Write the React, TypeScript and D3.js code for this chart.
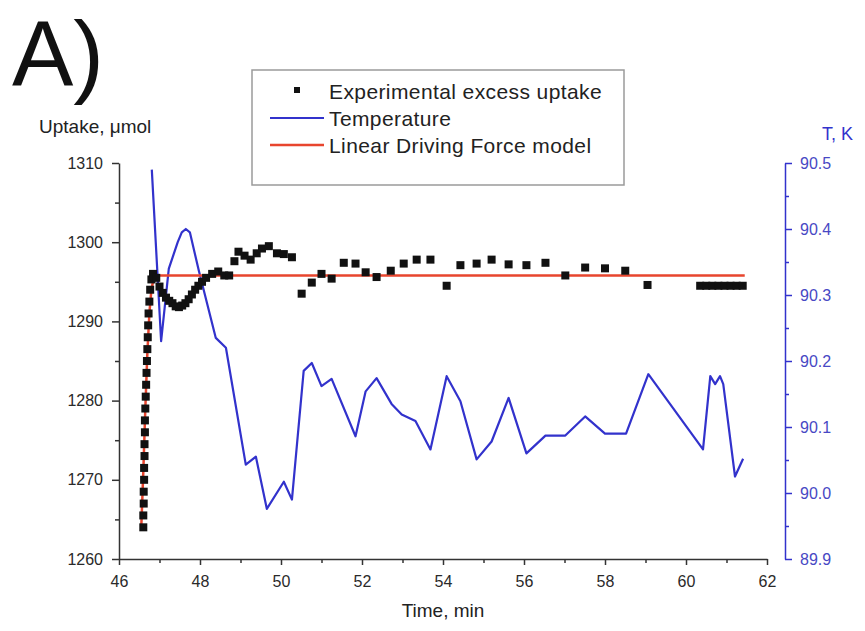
import React, { useEffect, useRef } from "react";
import * as d3 from "d3";

// Experimental excess uptake (time in min, uptake in µmol)
const expTime = [
  46.60, 46.60, 46.61, 46.61, 46.62, 46.62, 46.63, 46.63, 46.64, 46.64, 46.65, 46.66,
  46.67, 46.68, 46.69, 46.70, 46.71, 46.72, 46.73, 46.75, 46.77, 46.80, 46.84,
  46.92, 47.00, 47.08, 47.16, 47.24, 47.32, 47.40, 47.48, 47.56, 47.64, 47.72, 47.80,
  47.88, 47.96, 48.05, 48.15, 48.30, 48.45, 48.60, 48.72,
  48.85, 48.95, 49.10, 49.25, 49.40, 49.53, 49.70, 49.90, 50.07, 50.27,
  50.51, 50.76, 51.00, 51.25, 51.55, 51.84, 52.09, 52.36, 52.71, 53.03, 53.35, 53.69,
  54.09, 54.43, 54.83, 55.20, 55.62, 56.06, 56.53, 57.02, 57.51, 58.00, 58.50, 59.05,
  60.35, 60.50, 60.65, 60.80, 60.95, 61.10, 61.25, 61.40,
];
const expUptake = [
  1264.0, 1265.5, 1267.0, 1268.5, 1270.0, 1271.5, 1273.0, 1274.5, 1276.0, 1277.5, 1279.0, 1280.5,
  1282.0, 1283.5, 1285.0, 1286.5, 1288.0, 1289.5, 1291.0, 1292.5, 1294.0, 1295.3, 1296.0,
  1295.5, 1294.4, 1293.6, 1293.0, 1292.6, 1292.3, 1291.9, 1291.8, 1292.0, 1292.3, 1292.8, 1293.4,
  1294.0, 1294.5, 1295.0, 1295.5, 1296.0, 1296.3, 1295.8, 1295.8,
  1297.6, 1298.8, 1298.3, 1297.8, 1298.6, 1299.2, 1299.5, 1298.6, 1298.5, 1298.1,
  1293.5, 1294.9, 1296.0, 1295.4, 1297.4, 1297.3, 1296.2, 1295.6, 1296.4, 1297.3, 1297.8, 1297.8,
  1294.5, 1297.1, 1297.3, 1297.8, 1297.2, 1297.1, 1297.4, 1295.8, 1296.8, 1296.7, 1296.4, 1294.6,
  1294.5, 1294.5, 1294.5, 1294.5, 1294.5, 1294.5, 1294.5, 1294.5,
];

// Sample temperature (K)
const tempTime = [
  46.81, 47.04, 47.23, 47.45, 47.55, 47.65, 47.75, 47.97, 48.39, 48.64, 49.13, 49.38, 49.65,
  50.07, 50.27, 50.56, 50.76, 51.00, 51.25, 51.84, 52.09, 52.36, 52.73, 52.98, 53.32, 53.69,
  54.09, 54.43, 54.83, 55.20, 55.62, 56.06, 56.53, 57.02, 57.51, 58.00, 58.52, 59.07,
  60.42, 60.60, 60.72, 60.84, 60.92, 61.21, 61.41,
];
const tempK = [
  90.49, 90.23, 90.34, 90.38, 90.395, 90.40, 90.395, 90.337, 90.235, 90.22, 90.043, 90.055, 89.976,
  90.017, 89.99, 90.185, 90.197, 90.162, 90.173, 90.086, 90.154, 90.174, 90.135, 90.119, 90.109, 90.066,
  90.177, 90.139, 90.051, 90.078, 90.144, 90.06, 90.087, 90.087, 90.116, 90.09, 90.09, 90.18,
  90.066, 90.177, 90.165, 90.177, 90.165, 90.025, 90.052,
];

// Linear Driving Force model fit
const ldfTime = [46.55, 46.60, 46.65, 46.70, 46.75, 46.80, 46.85, 46.92, 61.45];
const ldfUptake = [1264.0, 1271.0, 1279.0, 1286.0, 1291.0, 1294.0, 1295.3, 1295.8, 1295.8];

const timeTicks = [46, 48, 50, 52, 54, 56, 58, 60, 62];
const timeMinor = [47, 49, 51, 53, 55, 57, 59, 61];
const uptakeTicks = [1260, 1270, 1280, 1290, 1300, 1310];
const uptakeMinor = [1265, 1275, 1285, 1295, 1305];
const tempTicks = [89.9, 90.0, 90.1, 90.2, 90.3, 90.4, 90.5];
const tempMinor = [89.95, 90.05, 90.15, 90.25, 90.35, 90.45];

const legendItems = ["Experimental excess uptake", "Temperature", "Linear Driving Force model"];

const FONT = "Arial, 'Liberation Sans', Helvetica, sans-serif";
const AXIS = "#333333";
const BLUE = "#3232cc";
const RED = "#e8452e";

export default function App() {
  const xAxisRef = useRef<SVGGElement>(null);
  const yAxisRef = useRef<SVGGElement>(null);
  const tAxisRef = useRef<SVGGElement>(null);

  const left = 119, right = 767, top = 163, bottom = 559, tAxisX = 785;

  const x = d3.scaleLinear().domain([46, 62]).range([left, right]);
  const yU = d3.scaleLinear().domain([1260, 1310]).range([bottom, top]);
  const yT = d3.scaleLinear().domain([89.9, 90.5]).range([bottom, top]);

  const tempLine = d3
    .line<number>()
    .x((_, i) => x(tempTime[i]))
    .y((d) => yT(d));
  const ldfLine = d3
    .line<number>()
    .x((_, i) => x(ldfTime[i]))
    .y((d) => yU(d));

  useEffect(() => {
    const style = (g: any, color: string, labelColor: string) => {
      g.selectAll("g").attr("font-family", FONT).attr("font-size", 16);
      g.selectAll("path.domain").attr("stroke", color).attr("stroke-width", 1.5);
      g.selectAll(".tick line").attr("stroke", color).attr("stroke-width", 1.5);
      g.selectAll(".tick text")
        .attr("fill", labelColor)
        .attr("font-size", 16)
        .attr("font-family", FONT);
    };

    const gx = d3.select(xAxisRef.current!);
    gx.selectAll("*").remove();
    gx.append("g").call(
      d3.axisBottom(x).tickValues(timeTicks).tickSize(6).tickSizeOuter(0).tickPadding(11).tickFormat(d3.format("d"))
    );
    gx.append("g")
      .call(d3.axisBottom(x).tickValues(timeMinor).tickSize(4).tickFormat(() => ""))
      .select("path.domain")
      .remove();
    style(gx, AXIS, "#2a2a2a");

    const gy = d3.select(yAxisRef.current!);
    gy.selectAll("*").remove();
    gy.append("g").call(
      d3.axisLeft(yU).tickValues(uptakeTicks).tickSize(7).tickSizeOuter(0).tickPadding(9).tickFormat(d3.format("d"))
    );
    gy.append("g")
      .call(d3.axisLeft(yU).tickValues(uptakeMinor).tickSize(4).tickFormat(() => ""))
      .select("path.domain")
      .remove();
    style(gy, AXIS, "#2a2a2a");

    const gt = d3.select(tAxisRef.current!);
    gt.selectAll("*").remove();
    gt.append("g").call(
      d3.axisRight(yT).tickValues(tempTicks).tickSize(7).tickSizeOuter(0).tickPadding(8).tickFormat(d3.format(".1f"))
    );
    gt.append("g")
      .call(d3.axisRight(yT).tickValues(tempMinor).tickSize(4).tickFormat(() => ""))
      .select("path.domain")
      .remove();
    style(gt, BLUE, "#4848c4");
  }, []);

  return (
    <svg
      width={865}
      height={631}
      viewBox="0 0 865 631"
      style={{ position: "absolute", left: 0, top: 0, background: "#ffffff" }}
    >
      <rect x={0} y={0} width={865} height={631} fill="#ffffff" />

      {/* panel tag */}
      <text x={12} y={86} fontFamily={FONT} fontSize={92} fill="#111">
        A)
      </text>

      {/* axis titles */}
      <text x={39} y={133} fontFamily={FONT} fontSize={19} fill="#222">
        Uptake, μmol
      </text>
      <text x={822} y={140} fontFamily={FONT} fontSize={18} fill={BLUE}>
        T, K
      </text>
      <text x={(left + right) / 2} y={617} textAnchor="middle" fontFamily={FONT} fontSize={19} fill="#222">
        Time, min
      </text>

      {/* series */}
      <path d={tempLine(tempK) ?? ""} fill="none" stroke={BLUE} strokeWidth={2.2} strokeLinejoin="round" />
      <path d={ldfLine(ldfUptake) ?? ""} fill="none" stroke={RED} strokeWidth={2.5} />
      <g fill="#111">
        {expUptake.map((v, i) => (
          <rect key={i} x={x(expTime[i]) - 4} y={yU(v) - 4} width={8} height={8} />
        ))}
      </g>

      {/* axes */}
      <g ref={xAxisRef} transform={`translate(0,${bottom})`} />
      <g ref={yAxisRef} transform={`translate(${left},0)`} />
      <g ref={tAxisRef} transform={`translate(${tAxisX},0)`} />

      {/* legend */}
      <g fontFamily={FONT} fontSize={21} fill="#222">
        <rect x={252} y={70} width={372} height={115} fill="#ffffff" stroke="#9a9a9a" strokeWidth={1.5} />
        <rect x={294} y={87} width={6} height={6} fill="#111" />
        <line x1={270} x2={324} y1={118} y2={118} stroke={BLUE} strokeWidth={2.2} />
        <line x1={270} x2={324} y1={145} y2={145} stroke={RED} strokeWidth={2.5} />
        {legendItems.map((t, i) => (
          <text key={t} x={329} y={99 + i * 27} letterSpacing={0.4}>
            {t}
          </text>
        ))}
      </g>
    </svg>
  );
}
